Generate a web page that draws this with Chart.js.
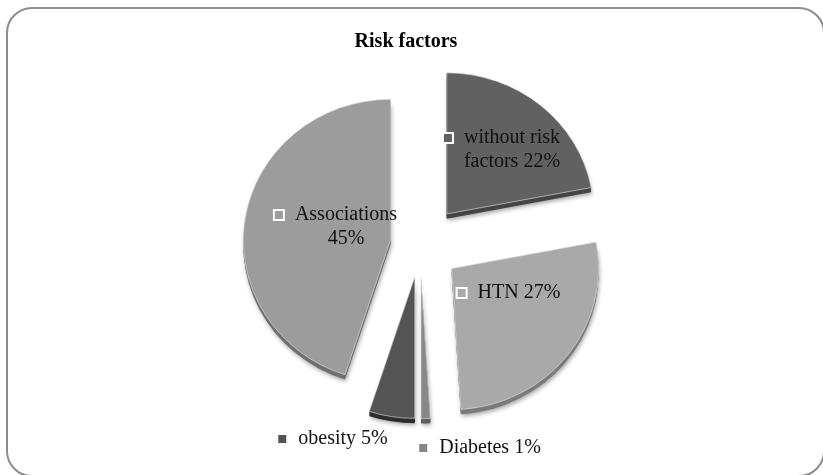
<!DOCTYPE html>
<html lang="en">
<head>
  <meta charset="UTF-8">
  <title>Risk factors</title>
  <script src="https://cdn.jsdelivr.net/npm/chart.js"></script>
  <style>
    html, body {
      margin: 0;
      padding: 0;
      background: #fff;
      overflow: hidden;
    }
    #wrap {
      position: relative;
      width: 823px;
      height: 475px;
    }
    /* rounded chart frame */
    #frame {
      position: absolute;
      left: 6px;
      top: 7px;
      width: 819px;
      height: 470px;
      box-sizing: border-box;
      border: 2px solid #8c8c8c;
      border-radius: 26px;
      pointer-events: none;
    }
    canvas {
      position: absolute;
      left: 0;
      top: 0;
    }
  </style>
</head>
<body>
<div id="wrap">
  <canvas id="riskChart" width="823" height="475"></canvas>
  <div id="frame"></div>
</div>

<script>
  // risk factor shares (%)
  const categories = ['without risk factors', 'HTN', 'Diabetes', 'obesity', 'Associations'];
  const shares = [22, 27, 1, 5, 45];
  const sliceColors = ['#616161', '#a9a9a9', '#878787', '#545454', '#9c9c9c'];
  const depthColors = ['#454545', '#7b7b7b', '#5c5c5c', '#2e2e2e', '#707070'];

  // how far each slice is pulled out of the pie (px)
  const explode = [42, 40, 34, 34, 30];
  // label anchor (centre of first text line) relative to the pie centre
  const labelPos = [[92, -107], [99, 48], [70, 203], [-77, 194], [-74, -30]];

  const pieRadius = 147;
  const depth = 5;
  const tilt = 0.96; // vertical squash for the slightly tilted 3D pie
  const labelFont = '20px "Liberation Serif", "Times New Roman", serif';

  let pieCenter = { x: 0, y: 0 };

  // move slices outwards along their middle angle
  const explodePlugin = {
    id: 'explode',
    afterDatasetsUpdate(chart) {
      const area = chart.chartArea;
      pieCenter = { x: (area.left + area.right) / 2, y: (area.top + area.bottom) / 2 };
      chart.getDatasetMeta(0).data.forEach((arc, i) => {
        const mid = (arc.startAngle + arc.endAngle) / 2;
        arc.x = pieCenter.x + explode[i] * Math.cos(mid);
        arc.y = pieCenter.y + explode[i] * Math.sin(mid);
      });
    },
    // tilt, then draw the thickness under each slice for the 3D look
    beforeDatasetsDraw(chart) {
      const ctx = chart.ctx;
      ctx.save();
      ctx.translate(pieCenter.x, pieCenter.y);
      ctx.scale(1, tilt);
      ctx.translate(-pieCenter.x, -pieCenter.y);
      chart.getDatasetMeta(0).data.forEach((arc, i) => {
        ctx.save();
        ctx.shadowColor = 'rgba(0,0,0,0.35)';
        ctx.shadowBlur = 4;
        ctx.shadowOffsetX = 1;
        ctx.shadowOffsetY = 2;
        ctx.fillStyle = depthColors[i];
        for (let k = depth; k >= 1; k--) {
          ctx.beginPath();
          ctx.moveTo(arc.x, arc.y + k);
          ctx.arc(arc.x, arc.y + k, arc.outerRadius, arc.startAngle, arc.endAngle);
          ctx.closePath();
          ctx.fill();
          if (k === depth) ctx.shadowColor = 'transparent';
        }
        ctx.restore();
      });
    },
    afterDatasetsDraw(chart) {
      chart.ctx.restore();
    }
  };

  function wrapLines(ctx, text, maxWidth) {
    const words = text.split(' ');
    const lines = [];
    let line = '';
    words.forEach(w => {
      const test = line ? line + ' ' + w : w;
      if (line && ctx.measureText(test).width > maxWidth) {
        lines.push(line);
        line = w;
      } else {
        line = test;
      }
    });
    lines.push(line);
    return lines;
  }

  // title and data labels with their small colour keys
  const labelPlugin = {
    id: 'sliceLabels',
    afterDraw(chart) {
      const ctx = chart.ctx;
      ctx.save();
      ctx.fillStyle = '#000';
      ctx.font = 'bold 20px "Liberation Serif", "Times New Roman", serif';
      ctx.textAlign = 'center';
      ctx.textBaseline = 'middle';
      ctx.fillText('Risk factors', 406, 42);

      ctx.font = labelFont;
      categories.forEach((name, i) => {
        const lines = wrapLines(ctx, name + ' ' + shares[i] + '%', 112);
        const cx = pieCenter.x + labelPos[i][0];
        const cy = pieCenter.y + labelPos[i][1];
        ctx.fillStyle = '#111';
        lines.forEach((ln, j) => ctx.fillText(ln, cx, cy + j * 24));
        const firstLeft = cx - ctx.measureText(lines[0]).width / 2;
        const mx = firstLeft - 16;
        ctx.fillStyle = sliceColors[i];
        ctx.fillRect(mx - 5, cy - 5, 10, 10);
        ctx.strokeStyle = '#fff';
        ctx.lineWidth = 2;
        ctx.strokeRect(mx - 5, cy - 5, 10, 10);
      });
      ctx.restore();
    }
  };

  new Chart(document.getElementById('riskChart'), {
    type: 'pie',
    data: {
      labels: categories,
      datasets: [{
        data: shares,
        backgroundColor: sliceColors,
        borderColor: 'rgba(225,225,225,0.8)',
        borderWidth: 0.8,
        radius: pieRadius
      }]
    },
    options: {
      responsive: false,
      animation: false,
      layout: { padding: { left: 17, right: 0, top: 15, bottom: 0 } },
      plugins: {
        legend: { display: false },
        title: { display: false },
        tooltip: { enabled: false }
      }
    },
    plugins: [explodePlugin, labelPlugin]
  });
</script>
</body>
</html>
